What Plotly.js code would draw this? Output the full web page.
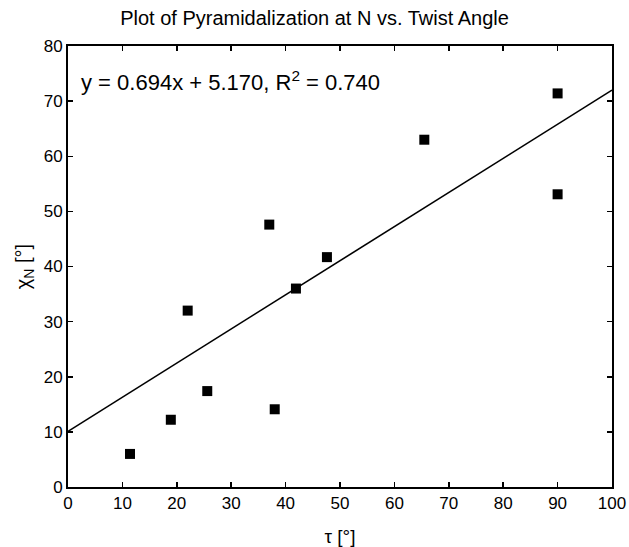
<!DOCTYPE html>
<html>
<head>
<meta charset="utf-8">
<script src="https://cdn.plot.ly/plotly-3.0.1.min.js"></script>
<style>html,body{margin:0;padding:0;background:#fff;}#chart{width:629px;height:547px;}</style>
</head>
<body>
<div id="chart"></div>
<script>
var tau = [11.4, 18.9, 22.0, 25.6, 37.0, 38.0, 41.9, 47.6, 65.5, 90.0, 90.0];
var chi = [6.0, 12.2, 32.0, 17.4, 47.6, 14.1, 36.0, 41.7, 63.0, 71.4, 53.1];
var fitX = [0, 100];
var fitY = [10.1, 72.0];
var eqText = 'y = 0.694x + 5.170, R<sup>2</sup> = 0.740';
var titleText = 'Plot of Pyramidalization at N vs. Twist Angle';
var xTitle = 'τ [°]';
var yTitle = 'χ<sub>N</sub> [°]';

var font = 'Liberation Sans, Arial, sans-serif';
var traces = [
  {x: fitX, y: fitY, mode: 'lines', line: {color: '#000', width: 1.6}, hoverinfo: 'skip'},
  {x: tau, y: chi, mode: 'markers', marker: {symbol: 'square', size: 10, color: '#000'}}
];
var axisCommon = {
  showgrid: false, zeroline: false, showline: true, linecolor: '#000', linewidth: 2,
  mirror: 'ticks', ticks: 'inside', ticklen: 5, tickwidth: 1.5, tickcolor: '#000',
  tickfont: {family: font, size: 17, color: '#000'}
};
var layout = {
  width: 629, height: 547,
  margin: {l: 68, r: 17, t: 46, b: 60},
  paper_bgcolor: '#fff', plot_bgcolor: '#fff',
  showlegend: false,
  font: {family: font, color: '#000'},
  title: {text: titleText, font: {family: font, size: 20, color: '#000'}, x: 0.5, xanchor: 'center', y: 0.967, yanchor: 'middle'},
  xaxis: Object.assign({}, axisCommon, {range: [0, 100], dtick: 10, title: {text: xTitle, font: {family: font, size: 19}, standoff: 18}}),
  yaxis: Object.assign({}, axisCommon, {range: [0, 80], dtick: 10, title: {text: yTitle, font: {family: font, size: 20}, standoff: 8}}),
  annotations: [{
    x: 2.0, y: 73.6, xref: 'x', yref: 'y', xanchor: 'left', yanchor: 'middle',
    text: eqText, showarrow: false, font: {family: font, size: 22, color: '#000'}
  }]
};
Plotly.newPlot('chart', traces, layout, {displayModeBar: false, staticPlot: true});
</script>
</body>
</html>
